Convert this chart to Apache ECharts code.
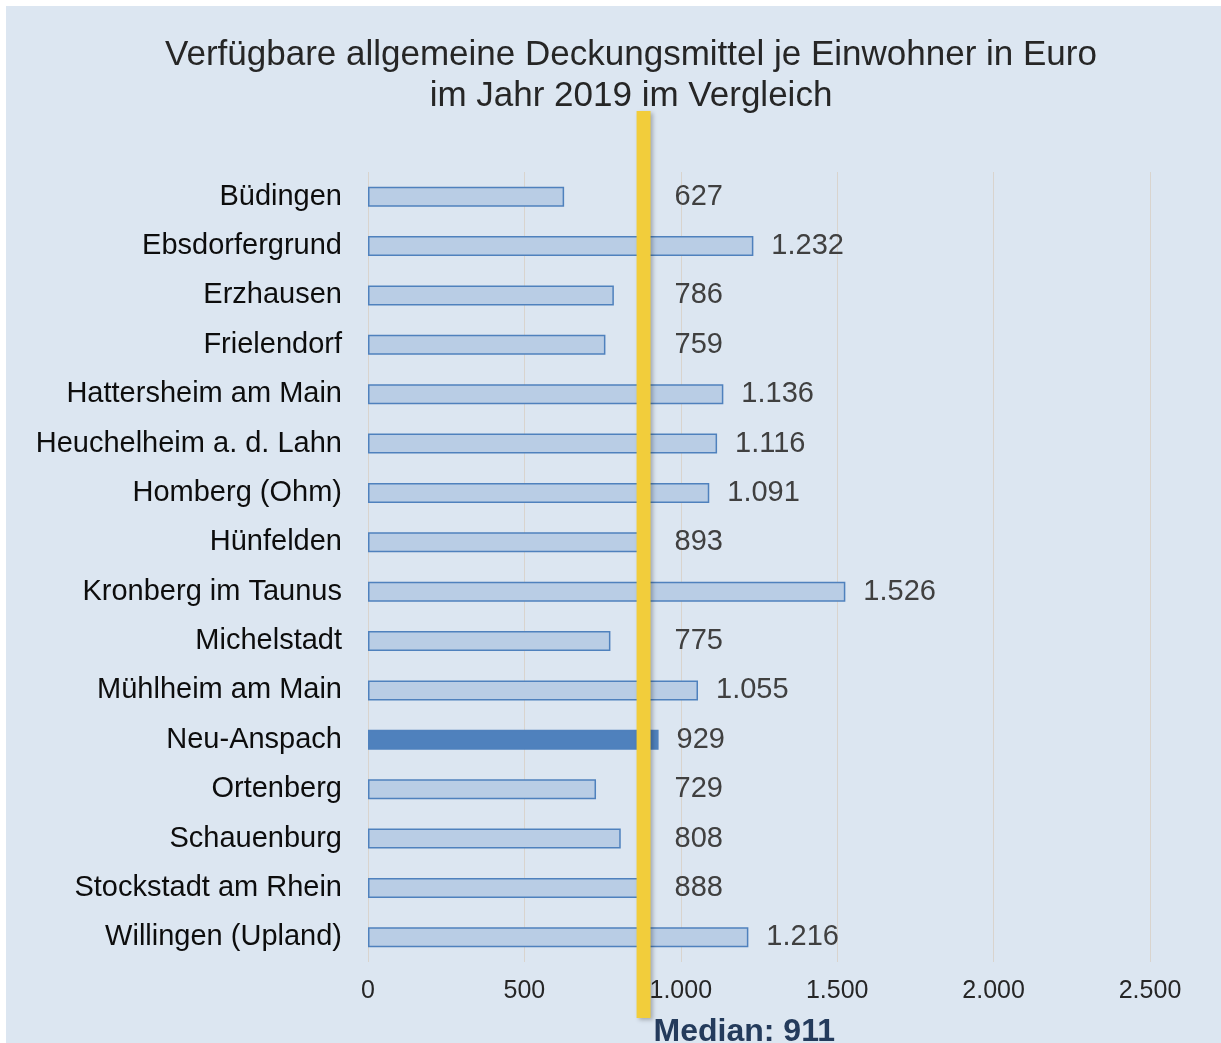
<!DOCTYPE html>
<html>
<head>
<meta charset="utf-8">
<script src="https://cdn.jsdelivr.net/npm/echarts@6/dist/echarts.min.js"></script>
<style>
html,body{margin:0;padding:0;background:#ffffff;}
#chart{position:absolute;left:6px;top:6px;width:1215px;height:1037px;background:#DCE6F1;}
</style>
</head>
<body>
<div id="chart"></div>
<script>
// ---- data ----
var titleLines = ["Verfügbare allgemeine Deckungsmittel je Einwohner in Euro", "im Jahr 2019 im Vergleich"];
var categories = ["Büdingen","Ebsdorfergrund","Erzhausen","Frielendorf","Hattersheim am Main","Heuchelheim a. d. Lahn","Homberg (Ohm)","Hünfelden","Kronberg im Taunus","Michelstadt","Mühlheim am Main","Neu-Anspach","Ortenberg","Schauenburg","Stockstadt am Rhein","Willingen (Upland)"];
var values = [627,1232,786,759,1136,1116,1091,893,1526,775,1055,929,729,808,888,1216];
var highlightCategory = "Neu-Anspach";
var medianValue = 911;            // value stated in the label
var medianLineAt = 881;           // where the reference draws the median marker on the axis
var medianLabel = "Median: " + medianValue;
var axisTicks = [0,500,1000,1500,2000,2500];

function fmt(v){ return String(v).replace(/\B(?=(\d{3})+(?!\d))/g, "."); }

var chart = echarts.init(document.getElementById('chart'), null, {renderer:'canvas'});
var FONT = 'Liberation Sans, Arial, sans-serif';

function buildData(offsets){
  return values.map(function(v,i){
    var item = {value:v};
    if (categories[i] === highlightCategory){
      item.itemStyle = {color:'#4F81BD', borderColor:'#4F81BD'};
    }
    if (offsets && offsets[i]) item.label = {offset:[offsets[i],0]};
    return item;
  });
}

var option = {
  backgroundColor:'#DCE6F1',
  animation:false,
  title:{
    text: titleLines.join('\n'),
    left: 620,
    textAlign: 'center',
    top: 24,
    textStyle:{fontFamily:FONT,fontSize:35,fontWeight:'normal',color:'#262626',lineHeight:41}
  },
  grid:{left:362,right:71,top:166,bottom:81,containLabel:false},
  xAxis:{
    type:'value',
    min:axisTicks[0],
    max:axisTicks[axisTicks.length-1],
    interval:axisTicks[1]-axisTicks[0],
    axisLine:{show:false},
    axisTick:{show:false},
    splitLine:{show:true,lineStyle:{color:'#D9D4CE',width:1}},
    axisLabel:{fontFamily:FONT,fontSize:25,color:'#262626',margin:17,formatter:function(v){return fmt(v);}}
  },
  yAxis:{
    type:'category',
    data:categories,
    inverse:true,
    axisLine:{show:false},
    axisTick:{show:false},
    splitLine:{show:false},
    axisLabel:{fontFamily:FONT,fontSize:29,color:'#0D0D0D',margin:26}
  },
  series:[{
    type:'bar',
    data:buildData(null),
    barWidth:20,
    itemStyle:{color:'#B9CDE5',borderColor:'#4F81BD',borderWidth:1.5},
    label:{show:true,position:'right',distance:18,fontFamily:FONT,fontSize:29,color:'#404040',formatter:function(p){return fmt(p.value);}}
  }]
};
chart.setOption(option);

// median line + label via the axis scale
var mx = chart.convertToPixel({xAxisIndex:0}, medianLineAt);
var lineHalf = 7;
var offsets = values.map(function(v){
  var end = chart.convertToPixel({xAxisIndex:0}, v);
  var normalStart = end + 18;
  var minStart = mx + lineHalf + 24;
  return normalStart < minStart ? (minStart - normalStart) : 0;
});
chart.setOption({
  series:[{data:buildData(offsets)}],
  graphic:[
    {type:'rect', z:100, shape:{x:mx-lineHalf, y:105, width:lineHalf*2, height:907},
     style:{fill:'#F2CD3B', shadowBlur:4, shadowOffsetX:2, shadowOffsetY:2, shadowColor:'rgba(0,0,0,0.25)'}},
    {type:'text', z:100, x:mx+lineHalf+3, y:1026, style:{text:medianLabel, fontFamily:FONT, fontSize:32, fontWeight:'bold', fill:'#243B5C', textVerticalAlign:'middle'}}
  ]
});
</script>
</body>
</html>
